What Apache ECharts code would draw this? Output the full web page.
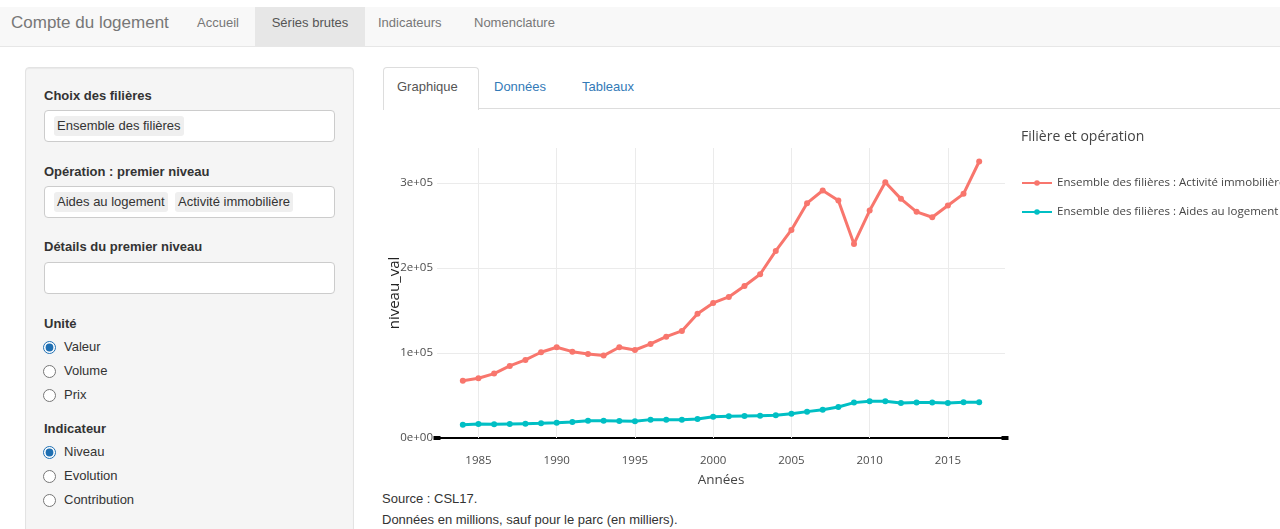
<!DOCTYPE html>
<html><head><meta charset="utf-8">
<script src="https://cdn.jsdelivr.net/npm/echarts@6/dist/echarts.min.js"></script>
<style>
html,body{margin:0;padding:0;width:1280px;height:529px;overflow:hidden;background:#fff;font-family:"Liberation Sans",Arial,sans-serif;color:#333;font-size:13px}
.abs{position:absolute;white-space:nowrap}
#nav{position:absolute;left:0;top:7px;width:1280px;height:39px;background:#f8f8f8;border-bottom:1px solid #e7e7e7}
.nv{position:absolute;top:0;height:39px;line-height:31px;color:#777;font-size:13px}
#well{position:absolute;left:25px;top:67px;width:327px;height:520px;background:#f5f5f5;border:1px solid #e3e3e3;border-radius:4px;box-shadow:inset 0 1px 1px rgba(0,0,0,.05)}
.lbl{position:absolute;font-weight:bold;font-size:13px;color:#333;white-space:nowrap}
.box{position:absolute;left:44px;width:289px;height:30px;background:#fff;border:1px solid #ccc;border-radius:4px}
.chip{position:absolute;top:5px;height:20px;line-height:20px;padding:0 3px;background:#efefef;border-radius:3px;color:#333;font-size:13px;white-space:nowrap}
.rad{position:absolute;left:40px;margin:0;width:13px;height:13px;accent-color:#1f6fb2}
.rl{position:absolute;left:64px;font-size:13px;color:#333;white-space:nowrap}
#chart{position:absolute;left:380px;top:110px;width:900px;height:380px}
</style></head><body>
<div id="nav">
  <div class="nv" style="left:11px;font-size:17px;line-height:31px;color:#777">Compte du logement</div>
  <div class="nv" style="left:197px">Accueil</div>
  <div class="nv" style="left:255px;width:110px;background:#e7e7e7;color:#555;text-align:center">Séries brutes</div>
  <div class="nv" style="left:378px">Indicateurs</div>
  <div class="nv" style="left:474px">Nomenclature</div>
</div>
<div id="well"></div>
<div class="lbl" style="left:44px;top:88px">Choix des filières</div>
<div class="box" style="top:110px"><div class="chip" style="left:9px">Ensemble des filières</div></div>
<div class="lbl" style="left:44px;top:164px">Opération : premier niveau</div>
<div class="box" style="top:186px"><div class="chip" style="left:9px">Aides au logement</div><div class="chip" style="left:130px">Activité immobilière</div></div>
<div class="lbl" style="left:44px;top:239px">Détails du premier niveau</div>
<div class="box" style="top:262px"></div>
<div class="lbl" style="left:44px;top:316px">Unité</div>
<input type="radio" class="rad" style="top:341px;left:43px" checked><div class="rl" style="top:339px">Valeur</div>
<input type="radio" class="rad" style="top:365px;left:43px"><div class="rl" style="top:363px">Volume</div>
<input type="radio" class="rad" style="top:389px;left:43px"><div class="rl" style="top:387px">Prix</div>
<div class="lbl" style="left:44px;top:421px">Indicateur</div>
<input type="radio" class="rad" style="top:446px;left:43px" checked><div class="rl" style="top:444px">Niveau</div>
<input type="radio" class="rad" style="top:470px;left:43px"><div class="rl" style="top:468px">Evolution</div>
<input type="radio" class="rad" style="top:494px;left:43px"><div class="rl" style="top:492px">Contribution</div>

<div class="abs" style="left:383px;top:67px;width:94px;height:42px;background:#fff;border:1px solid #ddd;border-bottom:none;border-radius:4px 4px 0 0"></div>
<div class="abs" style="left:478px;top:108px;width:802px;height:1px;background:#ddd"></div>
<div class="abs" style="left:397px;top:79px;color:#555">Graphique</div>
<div class="abs" style="left:494px;top:79px;color:#337ab7">Données</div>
<div class="abs" style="left:582px;top:79px;color:#337ab7">Tableaux</div>

<div id="chart"></div>
<div class="abs" style="left:382px;top:491px;font-size:13px;color:#333">Source : CSL17.</div>
<div class="abs" style="left:382px;top:512px;font-size:13px;color:#333">Données en millions, sauf pour le parc (en milliers).</div>

<script>
const years = [1984,1985,1986,1987,1988,1989,1990,1991,1992,1993,1994,1995,1996,1997,1998,1999,2000,2001,2002,2003,2004,2005,2006,2007,2008,2009,2010,2011,2012,2013,2014,2015,2016,2017];
const activiteImmobiliere = [67400,70200,75700,84700,91800,100800,106700,101500,98800,96900,106700,103500,110600,119200,125900,146000,158800,165900,178800,192500,220000,244700,276100,291000,279200,228200,267400,300800,281200,265900,259600,273300,287100,325100];
const aidesLogement = [15700,16500,16100,16500,16900,17300,18000,18800,20400,20400,20000,19600,21600,21600,21600,22400,25100,25500,25900,26300,26700,28600,31000,33300,36500,41600,43100,43100,41200,41600,41600,41200,42000,42000];
const seriesNames = ['Ensemble des filières : Activité immobilière','Ensemble des filières : Aides au logement'];
const xTicks = [1985,1990,1995,2000,2005,2010,2015];
const yTicks = [0,100000,200000,300000];
const legendTitle = 'Filière et opération';

const chart = echarts.init(document.getElementById('chart'));
const gridCol = '#ebebeb';
function fmtY(v){ return v===0 ? '0e+00' : (v/1e5)+'e+05'; }
function mk(name, vals, color, withGrid){
  const s = {
    name, type:'line', data: years.map((y,i)=>[y,vals[i]]),
    symbol:'circle', symbolSize:6, lineStyle:{width:3,color}, itemStyle:{color},
    z:5, animation:false
  };
  if(withGrid){
    s.markLine = {silent:true, symbol:'none', label:{show:false}, animation:false,
      lineStyle:{color:gridCol,width:1,type:'solid'},
      data: xTicks.map(x=>({xAxis:x})).concat(yTicks.filter(v=>v>0).map(v=>({yAxis:v})))};
  }
  return s;
}
chart.setOption({
  animation:false,
  textStyle:{fontFamily:'Open Sans'},
  title:{text:legendTitle,left:636,top:15,textStyle:{fontFamily:'Open Sans',fontSize:14,fontWeight:'normal',color:'#444'}},
  legend:{orient:'vertical',left:636,top:62,itemWidth:30,itemHeight:7,itemGap:17,
    textStyle:{fontFamily:'Open Sans',fontSize:11.5,color:'#444'},data:seriesNames},
  grid:{left:57,top:38,width:568,height:290,containLabel:false,outerBoundsMode:'none'},
  xAxis:{type:'value',min:1982.35,max:2018.65,
    name:'Années',nameLocation:'middle',nameGap:35,nameMoveOverlap:false,nameTextStyle:{fontFamily:'Open Sans',fontSize:13.5,color:'#444'},
    axisLine:{show:true,onZero:false,lineStyle:{color:'#000',width:2},symbol:['rect','rect'],symbolSize:[4,7]},
    axisTick:{show:false},splitLine:{show:false},
    axisLabel:{customValues:xTicks,color:'#4d4d4d',fontSize:11.5,fontFamily:'Open Sans',margin:17,formatter:v=>String(v)}},
  yAxis:{type:'value',min:0,max:341000,
    name:'niveau_val',nameLocation:'middle',nameGap:35,nameMoveOverlap:false,nameRotate:90,nameTextStyle:{fontFamily:'Open Sans',fontSize:15,color:'#222'},
    axisLine:{show:false},axisTick:{show:false},splitLine:{show:false},
    axisLabel:{customValues:yTicks,color:'#4d4d4d',fontSize:11.5,fontFamily:'Open Sans',margin:4,formatter:fmtY}},
  series:[
    mk(seriesNames[0],activiteImmobiliere,'#F8766D',true),
    mk(seriesNames[1],aidesLogement,'#00BFC4',false)
  ]
});
</script>
</body></html>
